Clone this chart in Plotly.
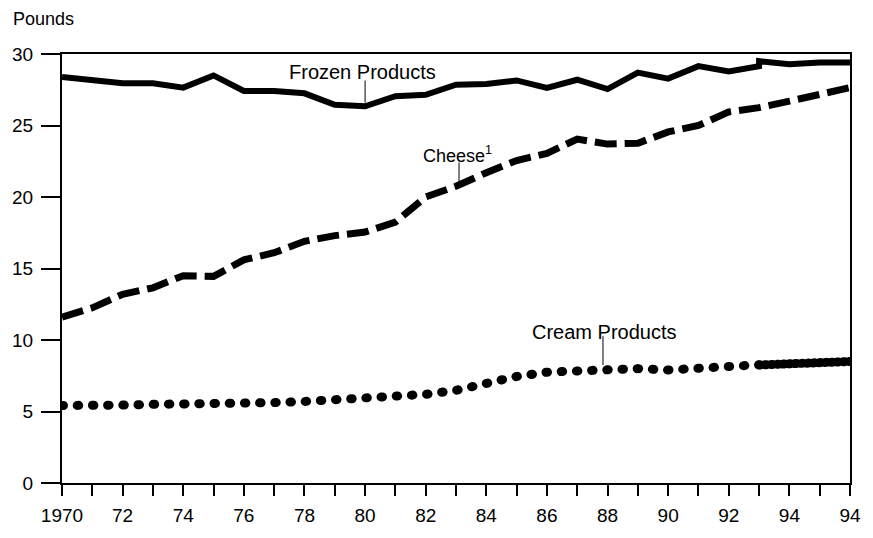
import plotly.graph_objects as go

# ---- data ----
frozen_years = list(range(1970, 1994)) + [1993, 1994, 1995, 1996]
frozen_vals = [28.4, 28.15, 27.95, 27.95, 27.65, 28.5, 27.42, 27.42, 27.25, 26.45,
               26.34, 27.05, 27.15, 27.85, 27.9, 28.15, 27.63, 28.2, 27.55, 28.7,
               28.28, 29.15, 28.78, 29.15, 29.5, 29.28, 29.4, 29.4]

cheese_years = list(range(1970, 1997))
cheese_vals = [11.6, 12.25, 13.2, 13.65, 14.5, 14.45, 15.6, 16.1, 16.9, 17.3,
               17.55, 18.25, 20.0, 20.75, 21.7, 22.55, 23.05, 24.05, 23.7, 23.76,
               24.55, 25.0, 25.95, 26.25, 26.7, 27.15, 27.65]

cream_years = list(range(1970, 1994))
cream_vals = [5.42, 5.38, 5.45, 5.5, 5.5, 5.52, 5.56, 5.62, 5.7, 5.8,
              5.92, 6.05, 6.2, 6.48, 6.98, 7.45, 7.75, 7.85, 7.9, 8.0,
              7.9, 8.0, 8.15, 8.27]
cream_rev_years = [1993, 1994, 1995, 1996]
cream_rev_vals = [8.25, 8.3, 8.45, 8.5]

x_label_vals = [1970, 1972, 1974, 1976, 1978, 1980, 1982, 1984, 1986, 1988, 1990, 1992, 1994, 1996]
x_label_text = ["1970", "72", "74", "76", "78", "80", "82", "84", "86", "88", "90", "92", "94", "94"]
x_minor_vals = [1971, 1973, 1975, 1977, 1979, 1981, 1983, 1985, 1987, 1989, 1991, 1993, 1995]
y_tick_vals = [0, 5, 10, 15, 20, 25, 30]

FONT = "Liberation Sans, Arial, sans-serif"

fig = go.Figure()
fig.add_trace(go.Scatter(x=frozen_years, y=frozen_vals, mode="lines",
                         line=dict(color="black", width=6), hoverinfo="skip"))
fig.add_trace(go.Scatter(x=cheese_years, y=cheese_vals, mode="lines",
                         line=dict(color="black", width=7, dash="22px,8px"), hoverinfo="skip"))
fig.add_trace(go.Scatter(x=cream_years, y=cream_vals, mode="lines",
                         line=dict(color="black", width=9, dash="1.5px,13.7px"), hoverinfo="skip"))
fig.add_trace(go.Scatter(x=cream_rev_years, y=cream_rev_vals, mode="lines",
                         line=dict(color="black", width=9, dash="1.5px,4.5px"), hoverinfo="skip"))

# labels with leader lines
fig.add_annotation(x=1979.9, y=28.75, text="Frozen Products", showarrow=False,
                   xanchor="center", yanchor="middle", font=dict(size=20, family=FONT, color="black"))
fig.add_shape(type="line", x0=1980, x1=1980, y0=28.14, y1=26.6, line=dict(color="black", width=1))

fig.add_annotation(x=1981.85, y=22.97, text="Cheese<sup>1</sup>", showarrow=False,
                   xanchor="left", yanchor="middle", font=dict(size=18, family=FONT, color="black"))
fig.add_shape(type="line", x0=1983.1, x1=1983.1, y0=22.41, y1=21.1, line=dict(color="black", width=1))

fig.add_annotation(x=1987.9, y=10.54, text="Cream Products", showarrow=False,
                   xanchor="center", yanchor="middle", font=dict(size=20, family=FONT, color="black"))
fig.add_shape(type="line", x0=1987.85, x1=1987.85, y0=10.27, y1=8.25, line=dict(color="black", width=1))

fig.add_annotation(xref="paper", yref="paper", x=-0.0652, y=1.0825, text="Pounds",
                   showarrow=False, xanchor="left", yanchor="middle",
                   font=dict(size=18, family=FONT, color="black"))

fig.update_layout(
    width=873, height=538,
    margin=dict(l=59, r=16, t=54, b=39),
    paper_bgcolor="white", plot_bgcolor="white",
    showlegend=False,
    font=dict(family=FONT, size=19, color="black"),
)
fig.update_xaxes(range=[1970, 1996], tickmode="array", tickvals=x_label_vals, ticktext=x_label_text,
                 ticks="outside", ticklen=11, tickwidth=2, tickcolor="black",
                 minor=dict(tickmode="array", tickvals=x_minor_vals, ticks="outside",
                            ticklen=11, tickwidth=2, tickcolor="black", showgrid=False),
                 showline=True, linewidth=2, linecolor="black", mirror=True,
                 showgrid=False, zeroline=False, tickfont=dict(size=19, family=FONT),
                 ticklabelstandoff=3)
fig.update_yaxes(range=[0, 30], tickmode="array", tickvals=y_tick_vals,
                 ticks="outside", ticklen=19, tickwidth=2, tickcolor="black",
                 showline=True, linewidth=2, linecolor="black", mirror=True,
                 showgrid=False, zeroline=False, tickfont=dict(size=19, family=FONT),
                 ticklabelstandoff=4)

post = """
document.body.style.margin = '0';
document.querySelectorAll('path.js-line').forEach(function(p){
  var d = p.style.strokeDasharray || '';
  if (d.indexOf('1.5px') === 0) { p.style.strokeLinecap = 'round'; }
});
"""
fig.write_html("out.html", post_script=post, config={"displayModeBar": False})
